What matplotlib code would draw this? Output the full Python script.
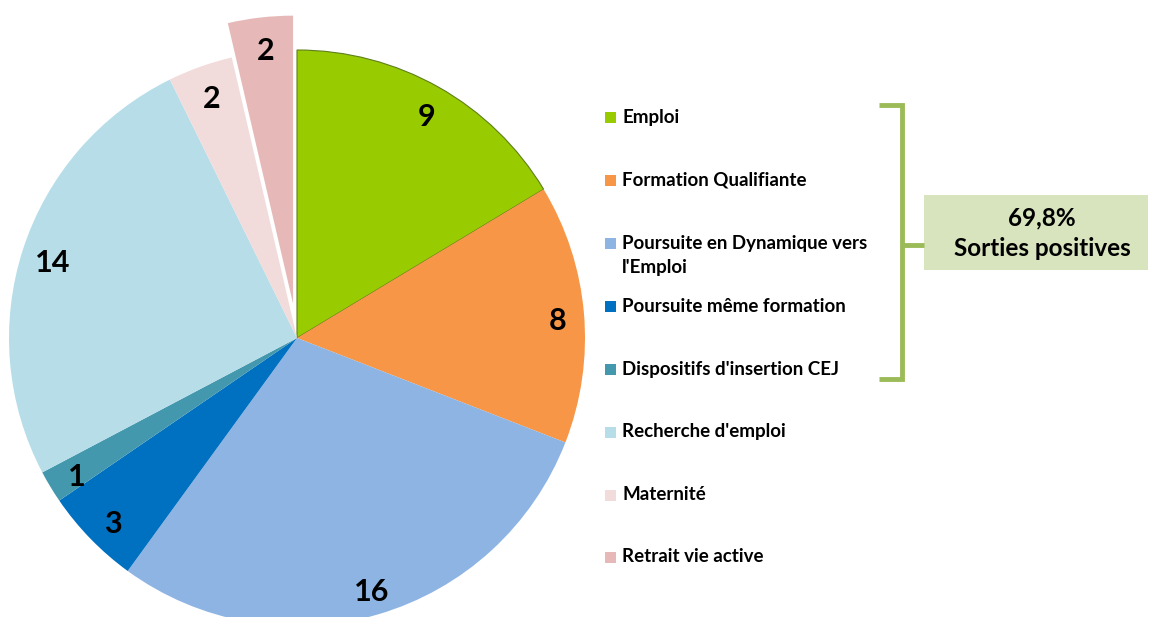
import matplotlib
matplotlib.use("Agg")
import matplotlib.pyplot as plt
from matplotlib.patches import Rectangle

# data
categories = ["Emploi", "Formation Qualifiante", "Poursuite en Dynamique vers\nl'Emploi",
              "Poursuite même formation", "Dispositifs d'insertion CEJ", "Recherche d'emploi",
              "Maternité", "Retrait vie active"]
values = [9, 8, 16, 3, 1, 14, 2, 2]
colors = ["#99CC00", "#F79646", "#8EB4E3", "#0070C0", "#4398AE", "#B7DEE8", "#F2DCDB", "#E6B9B8"]
explode_frac = [0, 0, 0, 0, 0, 0, 0, 0.12]
summary_pct = "69,8%"
summary_label = "Sorties positives"

W, H = 1150, 617
FONT = "Lato"
RADIUS = 288


def Y(y):
    # pixel row (from top) -> data y
    return H - y


fig = plt.figure(figsize=(W / 100, H / 100), dpi=100)
ax = fig.add_axes([0, 0, 1, 1])

total = sum(values)
# pie() applies explode in data units, so scale by the radius
wedges, _, autotexts = ax.pie(
    values, colors=colors, explode=[e * RADIUS for e in explode_frac], startangle=90,
    counterclock=False, center=(297, Y(338)), radius=RADIUS,
    autopct=lambda p: f"{p * total / 100:.0f}", pctdistance=0.9,
    textprops=dict(fontsize=22, fontweight="bold", color="#000000", family=FONT),
)
wedges[0].set_edgecolor("#5E7F1A")
wedges[0].set_linewidth(0.8)
# digits sit a little low in the original
for t in autotexts:
    x, y = t.get_position()
    t.set_position((x + 2, y - 5))

ax.set_xlim(0, W)
ax.set_ylim(0, H)
ax.set_aspect("equal")
ax.axis("off")

# legend drawn by hand
leg_y = [117, 180, 243, 306, 369, 432, 495, 557]
for cat, col, yy in zip(categories, colors, leg_y):
    ax.add_patch(Rectangle((605, Y(yy) - 5.5), 11, 11, color=col, lw=0))
    for i, line in enumerate(cat.split("\n")):
        ax.text(622, Y(yy + 25 * i), line, fontsize=13.5, fontweight="bold", color="#000000",
                family=FONT, va="center", ha="left")

# bracket around the positive outcomes
green = "#9BBB59"
ax.plot([879, 902, 902, 879], [Y(105), Y(105), Y(379), Y(379)], color=green, lw=3.5,
        solid_joinstyle="miter", solid_capstyle="butt")
ax.plot([902, 924], [Y(245), Y(245)], color=green, lw=3.5, solid_capstyle="butt")

ax.add_patch(Rectangle((924, Y(270)), 224, 75, color="#D7E4BD", lw=0))
ax.text(1042, Y(218), summary_pct, fontsize=17.5, fontweight="bold", color="#000000",
        family=FONT, ha="center", va="center")
ax.text(1042, Y(249), summary_label, fontsize=17.5, fontweight="bold", color="#000000",
        family=FONT, ha="center", va="center")

fig.savefig("out.png", dpi=100)
